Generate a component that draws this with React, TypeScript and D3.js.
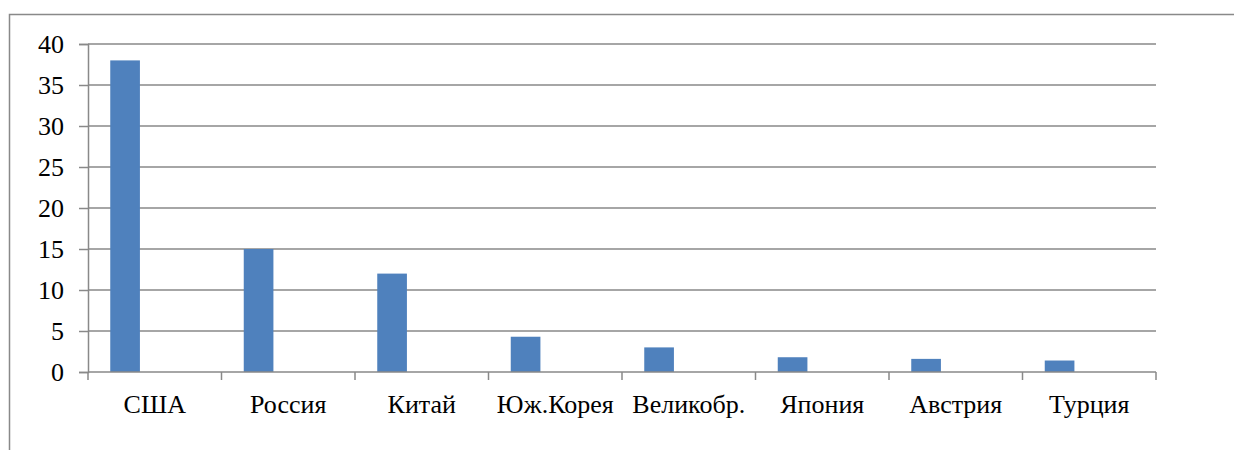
import React, { useRef, useEffect } from "react";
import * as d3 from "d3";

const countries = ["США", "Россия", "Китай", "Юж.Корея", "Великобр.", "Япония", "Австрия", "Турция"];
const values = [38, 15, 12, 4.3, 3, 1.8, 1.6, 1.4];
// the source chart has three series slots per category, only the first is filled
const seriesSlots = ["Ряд 1", "Ряд 2", "Ряд 3"];
const yTicks = [0, 5, 10, 15, 20, 25, 30, 35, 40];

const W = 1234;
const H = 450;

const App = () => {
  const ref = useRef<SVGSVGElement>(null);

  useEffect(() => {
    if (!ref.current) return;
    const svg = d3.select(ref.current);
    svg.selectAll("*").remove();

    const left = 88, right = 1156, top = 44, bottom = 372;
    const grey = "#898989";
    const font = "Liberation Serif, DejaVu Serif, serif";

    // outer chart frame (right and bottom edges fall outside the picture)
    svg
      .append("path")
      .attr("d", `M9.5,${H} V14.5 H${W}`)
      .attr("fill", "none")
      .attr("stroke", grey)
      .attr("stroke-width", 1.5);

    const x = d3.scaleBand().domain(countries).range([left, right]).paddingInner(0).paddingOuter(0);
    const xSlot = d3
      .scaleBand()
      .domain(seriesSlots)
      .range([0, x.bandwidth()])
      .paddingInner(0)
      .paddingOuter(0.75);
    const y = d3.scaleLinear().domain([0, 40]).range([bottom, top]);

    // gridlines
    svg
      .append("g")
      .selectAll("line")
      .data(yTicks.filter((t) => t > 0))
      .enter()
      .append("line")
      .attr("x1", left)
      .attr("x2", right)
      .attr("y1", (d) => y(d))
      .attr("y2", (d) => y(d))
      .attr("stroke", grey)
      .attr("stroke-width", 1.5);

    // bars
    svg
      .append("g")
      .selectAll("rect")
      .data(values)
      .enter()
      .append("rect")
      .attr("x", (d, i) => (x(countries[i]) as number) + (xSlot(seriesSlots[0]) as number))
      .attr("y", (d) => y(d))
      .attr("width", xSlot.bandwidth())
      .attr("height", (d) => y(0) - y(d))
      .attr("fill", "#4F81BD");

    // y axis
    const yAxis = svg
      .append("g")
      .attr("transform", `translate(${left},0)`)
      .call(d3.axisLeft(y).tickValues(yTicks).tickSize(9).tickPadding(15));
    yAxis.attr("font-family", font).attr("font-size", 26);
    yAxis.select(".domain").attr("stroke", grey).attr("stroke-width", 1.5);
    yAxis.selectAll(".tick line").attr("stroke", grey).attr("stroke-width", 1.5);
    yAxis.selectAll(".tick text").attr("fill", "#000");

    // x axis
    const xAxis = svg
      .append("g")
      .attr("transform", `translate(0,${bottom})`)
      .attr("font-family", font)
      .attr("font-size", 26);
    xAxis
      .append("line")
      .attr("x1", left)
      .attr("x2", right)
      .attr("stroke", grey)
      .attr("stroke-width", 1.5);
    const edges = countries.map((c) => x(c) as number).concat([right]);
    xAxis
      .selectAll("line.tk")
      .data(edges)
      .enter()
      .append("line")
      .attr("class", "tk")
      .attr("x1", (d) => d)
      .attr("x2", (d) => d)
      .attr("y1", 0)
      .attr("y2", 8)
      .attr("stroke", grey)
      .attr("stroke-width", 1.5);
    xAxis
      .selectAll("text")
      .data(countries)
      .enter()
      .append("text")
      .attr("x", (d) => (x(d) as number) + x.bandwidth() / 2)
      .attr("y", 41)
      .attr("text-anchor", "middle")
      .text((d) => d);
  }, []);

  return (
    <svg
      ref={ref}
      width={W}
      height={H}
      style={{ position: "absolute", left: 0, top: 0, background: "#fff" }}
    />
  );
};

export default App;
